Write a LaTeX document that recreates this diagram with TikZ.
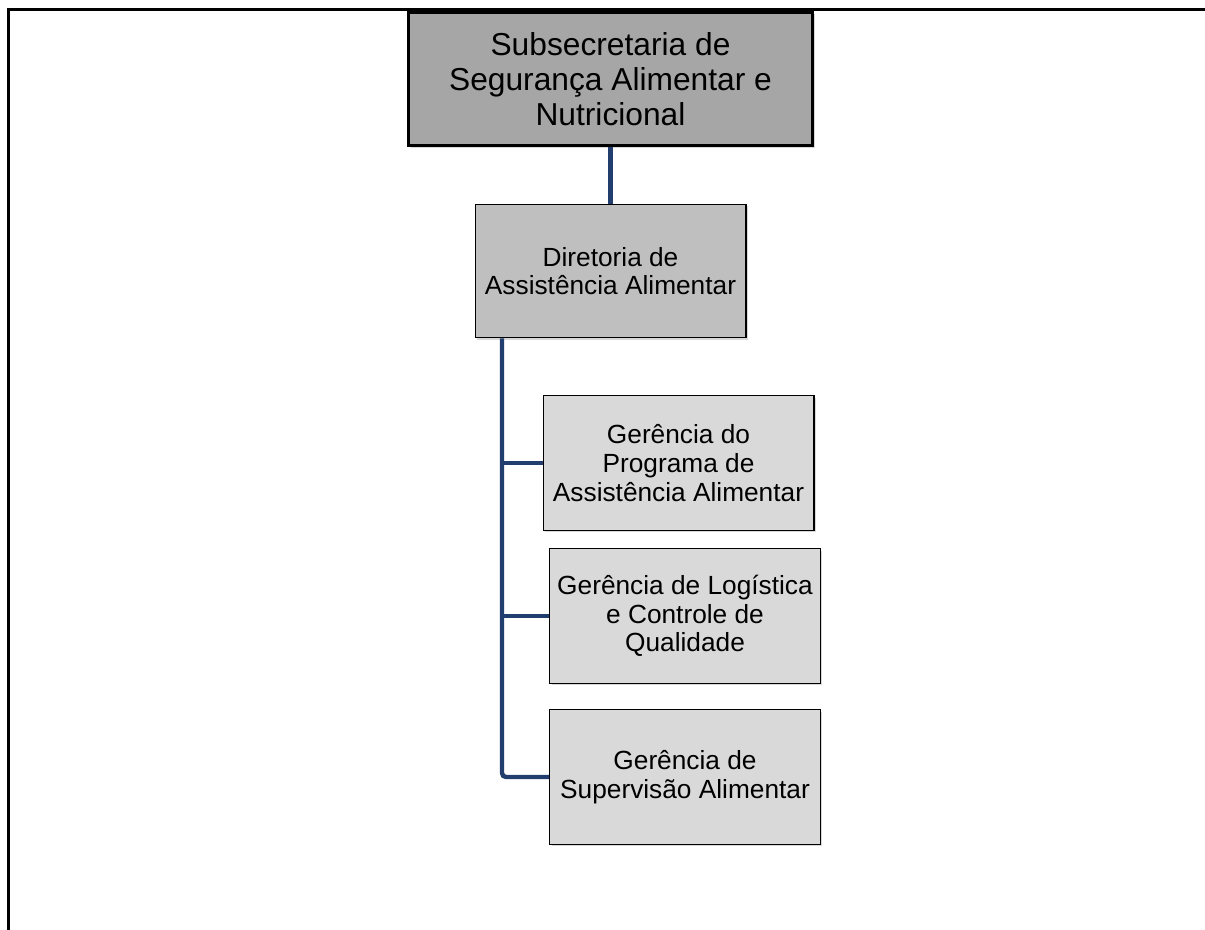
\documentclass[tikz,border=0pt]{standalone}
\usepackage{fontspec}
\setmainfont{Liberation Sans}
\usetikzlibrary{shadows}
\definecolor{conncol}{RGB}{33,62,110}
\definecolor{topfill}{RGB}{166,166,166}
\definecolor{dirfill}{RGB}{191,191,191}
\definecolor{gerfill}{RGB}{217,217,217}
\begin{document}
\begin{tikzpicture}[x=0.75pt,y=-0.75pt,
  frameline/.style={line width=2.3pt,black},
  conn/.style={line width=3.3pt,draw=conncol,rounded corners=3pt},
  basebox/.style={rectangle,draw=black,align=center,inner sep=2pt,
    drop shadow={opacity=0.3,shadow xshift=1.5pt,shadow yshift=-1.5pt}},
  topbox/.style={basebox,fill=topfill,line width=2.2pt,minimum width=303pt,minimum height=100pt,
    font=\fontsize{23.8}{26}\selectfont},
  dirbox/.style={basebox,fill=dirfill,line width=1pt,minimum width=203pt,minimum height=100pt,
    font=\fontsize{19.7}{21.5}\selectfont},
  gerbox/.style={basebox,fill=gerfill,line width=1pt,minimum width=203pt,minimum height=101pt,
    font=\fontsize{19.7}{21.5}\selectfont}]
\useasboundingbox (0,0) rectangle (1205,929);
\fill[white] (0,0) rectangle (1205,929);
\draw[frameline] (1206,9.5) -- (8.5,9.5) -- (8.5,930);
\node[topbox] (top) at (610.5,79) {Subsecretaria de\\Segurança Alimentar e\\Nutricional};
\node[dirbox] (dir) at (610.5,271) {Diretoria de\\Assistência Alimentar};
\node[gerbox] (g1) at (678.5,463) {Gerência do\\Programa de\\Assistência Alimentar};
\node[gerbox] (g2) at (685,616) {Gerência de Logística\\e Controle de\\Qualidade};
\node[gerbox] (g3) at (685,777) {Gerência de\\Supervisão Alimentar};
\coordinate (trunk) at (502,338);
\draw[conn] (top.south) -- (dir.north);
\draw[conn] (dir.south -| trunk) |- (g3.west);
\draw[conn] (g1.west -| trunk) -- (g1.west);
\draw[conn] (g2.west -| trunk) -- (g2.west);
\end{tikzpicture}
\end{document}
